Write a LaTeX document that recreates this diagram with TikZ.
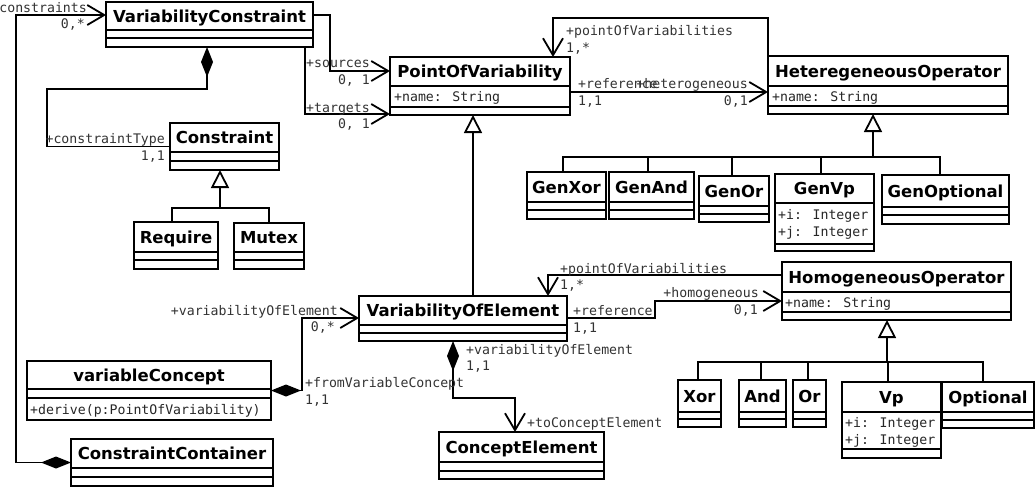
\documentclass[tikz,border=0pt]{standalone}
\usepackage{fontspec}
\setmainfont{DejaVu Sans}
\newfontfamily\monof{DejaVu Sans Mono}
\usetikzlibrary{arrows.meta}
\tikzset{
  classbox/.style={draw, line width=1.8pt, fill=white, rectangle, inner sep=0pt, outer sep=0pt},
  sepline/.style={line width=1.8pt},
  ttl/.style={font=\bfseries\fontsize{16.5}{18}\selectfont, inner sep=0pt, anchor=base},
  attr/.style={font=\monof\fontsize{13.2}{15}\selectfont, inner sep=0pt, anchor=base west, text=black!85},
  lab/.style={font=\monof\fontsize{13.2}{15}\selectfont, inner sep=0pt, text=black!80},
  labl/.style={lab, anchor=base west},
  labr/.style={lab, anchor=base east},
  conn/.style={line width=1.8pt},
  assoc/.style={conn, -{Straight Barb[length=17pt,width=20pt]}},
  comp/.style={conn, {Diamond[length=30pt,width=12pt]}-},
  compnav/.style={conn, {Diamond[length=30pt,width=12pt]}-{Straight Barb[length=17pt,width=20pt]}},
  gen/.style={conn, {Triangle[length=18pt,width=18pt,fill=white]}-},
}
% #1 name, #2 x1, #3 y1, #4 x2, #5 y2, #6 sep1, #7 sep2, #8 title
\newcommand\umlclass[8]{%
  \node[classbox, minimum width={(#4-#2)*1pt}, minimum height={(#5-#3)*1pt}] (#1) at ({(#2+#4)/2},{(#3+#5)/2}) {};
  \draw[sepline] (#2,#6) -- (#4,#6);
  \draw[sepline] (#2,#7) -- (#4,#7);
  \node[ttl] (#1-name) at ({(#2+#4)/2},{(#3+#6)/2+6}) {#8};
}
\begin{document}
\begin{tikzpicture}[x=1pt,y=-1pt]
\fill[white] (0,0) rectangle (1036,491);
\useasboundingbox (0,0) rectangle (1036,491);

% classes
\umlclass{VC}{106}{2}{313}{47}{30}{38}{VariabilityConstraint}
\umlclass{PoV}{390}{57}{570}{115}{86}{107}{PointOfVariability}
\node[attr] (PoV-a) at (394,101) {+name: String};
\umlclass{HetO}{768}{56}{1008}{114}{86}{106}{HeteregeneousOperator}
\node[attr] (HetO-a) at (772,101) {+name: String};
\umlclass{Constraint}{170}{123}{279}{170}{152}{161}{Constraint}
\umlclass{Require}{134}{222}{218}{269}{252}{260}{Require}
\umlclass{Mutex}{234}{223}{304}{269}{252}{260}{Mutex}
\umlclass{GenXor}{527}{172}{606}{219}{202}{210}{GenXor}
\umlclass{GenAnd}{609}{172}{694}{219}{202}{210}{GenAnd}
\umlclass{GenOr}{699}{176}{769}{222}{206}{214}{GenOr}
\umlclass{GenVp}{775}{174}{874}{251}{203}{244}{GenVp}
\node[attr] (GenVp-a1) at (778,219) {+i: Integer};
\node[attr] (GenVp-a2) at (778,236) {+j: Integer};
\umlclass{GenOptional}{882}{175}{1009}{224}{207}{215}{GenOptional}
\umlclass{VoE}{359}{296}{567}{341}{325}{333}{VariabilityOfElement}
\umlclass{HomO}{782}{262}{1011}{320}{292}{312}{HomogeneousOperator}
\node[attr] (HomO-a) at (785,307) {+name: String};
\umlclass{Xor}{678}{380}{721}{427}{412}{419}{Xor}
\umlclass{And}{739}{380}{786}{427}{412}{419}{And}
\umlclass{Or}{793}{380}{826}{427}{412}{419}{Or}
\umlclass{Vp}{842}{382}{941}{458}{412}{449}{Vp}
\node[attr] (Vp-a1) at (845,427) {+i: Integer};
\node[attr] (Vp-a2) at (845,444) {+j: Integer};
\umlclass{Optional}{942}{382}{1034}{428}{412}{420}{Optional}
\umlclass{vC}{27}{361}{271}{420}{389}{398}{variableConcept}
\node[attr] (vC-o) at (30,414) {+derive(p:PointOfVariability)};
\umlclass{CC}{71}{439}{273}{486}{468}{477}{ConstraintContainer}
\umlclass{CE}{439}{432}{604}{479}{462}{471}{ConceptElement}

% associations
\draw[compnav] (CC.west) -- ++(-55,0) |- ([yshift=-13pt]VC.north west);
\draw[comp] ([xshift=-2.5pt]VC.south) -- ++(0,42) -- ++(-160,0) |- (Constraint.west);
\draw[assoc] ([yshift=-13pt]VC.north east) -- ++(17,0) |- ([yshift=-14pt]PoV.north west);
\draw[assoc] ([xshift=-8pt]VC.south east) |- ([yshift=1pt]PoV.south west);
\coordinate (r1) at ([yshift=-35pt]PoV.north east);
\draw[assoc] (r1) -- (r1 -| HetO.west);
\draw[assoc] (HetO.north west) |- ([xshift=-17pt,yshift=39pt]PoV.north east) -- ([xshift=-17pt]PoV.north east);
\draw[assoc] ([yshift=-13pt]HomO.north west) -| ([xshift=-19pt]VoE.north east);
\draw[assoc] ([yshift=-22pt]VoE.north east) -- ++(88,0) |- ([yshift=-39pt]HomO.north west);
\draw[compnav] ([xshift=94pt]VoE.south west) -- ++(0,57) -| ([xshift=76pt]CE.north west);
\draw[compnav] (vC.east) -- ++(31,0) |- ([yshift=-22pt]VoE.north west);

% generalizations
\coordinate (g1) at ([xshift=50pt]Constraint.south west);
\draw[gen] (g1) -- ++(0,38) coordinate (g1b);
\draw[conn] ([xshift=-4pt]Require.north) |- (g1b) -| (Mutex.north);

\coordinate (g2) at ([xshift=105pt]HetO.south west);
\draw[gen] (g2) -- ++(0,43) coordinate (g2b);
\draw[conn] ([xshift=-3.5pt]GenXor.north) |- (g2b) -| ([xshift=-5.5pt]GenOptional.north);
\draw[conn] ([xshift=-3.5pt]GenAnd.north) |- (g2b);
\draw[conn] ([xshift=-2pt]GenOr.north) |- (g2b);
\draw[conn] ([xshift=-3.5pt]GenVp.north) |- (g2b);

\coordinate (g3) at ([xshift=105pt]HomO.south west);
\draw[gen] (g3) -- ++(0,42) coordinate (g3b);
\draw[conn] ([xshift=-1.5pt]Xor.north) |- (g3b) -| ([xshift=-5pt]Optional.north);
\draw[conn] ([xshift=-1.5pt]And.north) |- (g3b);
\draw[conn] ([xshift=-1.5pt]Or.north) |- (g3b);
\draw[conn] ([xshift=-3.5pt]Vp.north) |- (g3b);

\coordinate (g4) at ([xshift=83pt]PoV.south west);
\draw[gen] (g4) -- (g4 |- VoE.north);

% labels
\node[labr] (l1) at (87,12) {constraints};
\node[labr] (l2) at (85,28) {0,*};
\node[labr] (l3) at (165,143) {+constraintType};
\node[labr] (l4) at (165,160) {1,1};
\node[labr] (l5) at (370,67) {+sources};
\node[labr] (l6) at (370,84) {0, 1};
\node[labr] (l7) at (370,112) {+targets};
\node[labr] (l8) at (370,128) {0, 1};
\node[labl] (l9) at (566,35) {+pointOfVariabilities};
\node[labl] (l10) at (566,52) {1,*};
\node[labl] (l11) at (578,88) {+reference};
\node[labl] (l12) at (578,105) {1,1};
\node[labr] (l13) at (748,88) {+heterogeneous};
\node[labr] (l14) at (748,105) {0,1};
\node[labl] (l15) at (560,273) {+pointOfVariabilities};
\node[labl] (l16) at (560,289) {1,*};
\node[labr] (l17) at (759,297) {+homogeneous};
\node[labr] (l18) at (758,314) {0,1};
\node[labl] (l19) at (573,315) {+reference};
\node[labl] (l20) at (573,332) {1,1};
\node[labr] (l21) at (338,315) {+variabilityOfElement};
\node[labr] (l22) at (335,331) {0,*};
\node[labl] (l23) at (466,354) {+variabilityOfElement};
\node[labl] (l24) at (466,370) {1,1};
\node[labl] (l25) at (305,387) {+fromVariableConcept};
\node[labl] (l26) at (305,404) {1,1};
\node[labl] (l27) at (527,427) {+toConceptElement};
\end{tikzpicture}
\end{document}
